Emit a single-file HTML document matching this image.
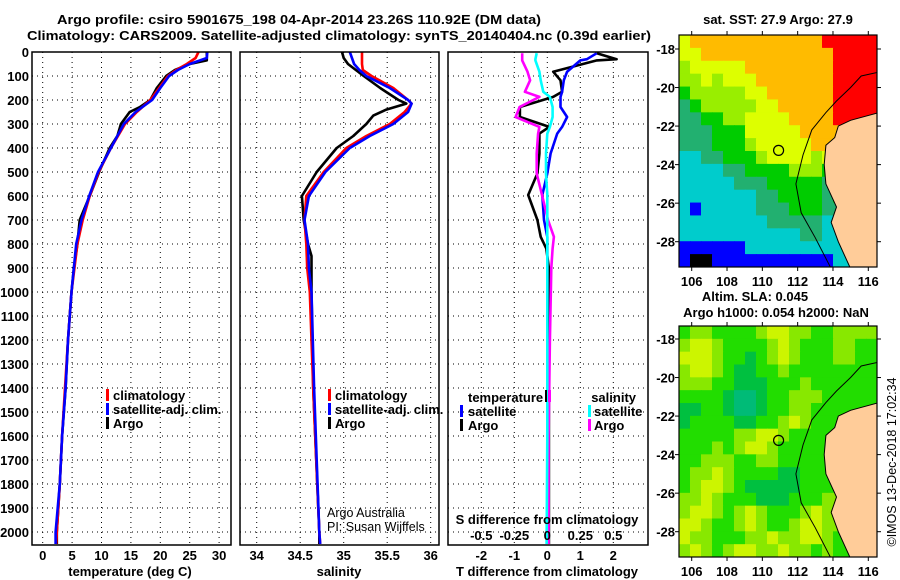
<!DOCTYPE html>
<html><head><meta charset="utf-8"><style>
html,body{margin:0;padding:0;background:#fff;width:900px;height:580px;overflow:hidden}
text{font-family:"Liberation Sans",sans-serif;font-weight:bold;font-size:13px;fill:#000}
</style></head><body>
<svg id="fig" width="900" height="580" xmlns="http://www.w3.org/2000/svg">
<text x="299" y="24" text-anchor="middle" font-size="14" textLength="484" lengthAdjust="spacingAndGlyphs">Argo profile: csiro 5901675_198 04-Apr-2014 23.26S 110.92E (DM data)</text>
<text x="339" y="40" text-anchor="middle" font-size="14" textLength="624" lengthAdjust="spacingAndGlyphs">Climatology: CARS2009. Satellite-adjusted climatology: synTS_20140404.nc (0.39d earlier)</text>
<g id="grid"></g>
<g id="marks"></g>
<g id="maps"></g>
<g id="frames"></g>
<g id="labels"></g>
<!-- legends -->
<g>
<rect x="106" y="389" width="3" height="12" fill="#f00"/><text x="113" y="400">climatology</text>
<rect x="106" y="403" width="3" height="12" fill="#00f"/><text x="113" y="414">satellite-adj. clim.</text>
<rect x="106" y="417" width="3" height="12" fill="#000"/><text x="113" y="428">Argo</text>
</g>
<g>
<rect x="328" y="389" width="3" height="12" fill="#f00"/><text x="335" y="400">climatology</text>
<rect x="328" y="403" width="3" height="12" fill="#00f"/><text x="335" y="414">satellite-adj. clim.</text>
<rect x="328" y="417" width="3" height="12" fill="#000"/><text x="335" y="428">Argo</text>
</g>
<text x="327" y="517" style="font-weight:normal;font-size:12.5px">Argo Australia</text>
<text x="327" y="531" style="font-weight:normal;font-size:12.5px">PI: Susan Wijffels</text>
<g>
<text x="468" y="402">temperature</text><rect x="545" y="390" width="2" height="12" fill="#000"/>
<rect x="548" y="390" width="3" height="12" fill="#f0f"/>
<text x="636" y="402" text-anchor="end">salinity</text>
<rect x="460" y="405" width="3" height="12" fill="#00f"/><text x="468" y="416">satellite</text>
<rect x="588" y="405" width="3" height="12" fill="#0ff"/><text x="594" y="416">satellite</text>
<rect x="460" y="419" width="3" height="12" fill="#000"/><text x="468" y="430">Argo</text>
<rect x="588" y="419" width="3" height="12" fill="#f0f"/><text x="594" y="430">Argo</text>
</g>
<text x="547" y="524" text-anchor="middle">S difference from climatology</text>
<text x="130" y="576" text-anchor="middle">temperature (deg C)</text>
<text x="339" y="576" text-anchor="middle">salinity</text>
<text x="547" y="576" text-anchor="middle">T difference from climatology</text>
<text x="778" y="24" text-anchor="middle">sat. SST: 27.9 Argo: 27.9</text>
<text x="755" y="301" text-anchor="middle">Altim. SLA: 0.045</text>
<text x="776" y="317" text-anchor="middle">Argo h1000: 0.054 h2000: NaN</text>
<text x="0" y="0" transform="translate(896,462) rotate(-90)" text-anchor="middle" style="font-weight:normal;font-size:12.5px">©IMOS 13-Dec-2018 17:02:34</text>
</svg>
<script>
// ---------- data ----------
const depthTicks = [0,100,200,300,400,500,600,700,800,900,1000,1100,1200,1300,1400,1500,1600,1700,1800,1900,2000];
const tempTicks = [0,5,10,15,20,25,30];
const salTicks = [34,34.5,35,35.5,36];
const salTickLabels = ["34","34.5","35","35.5","36"];
const tdiffTicks = [-2,-1,0,1,2];
const sdiffTicks = [-0.5,-0.25,0,0.25,0.5];
const sdiffTickLabels = ["-0.5","-0.25","0","0.25","0.5"];

const tArgoDepth = [0,35,50,75,100,150,200,230,250,300,350,400,500,600,700,800,900,1000,1200,1400,1600,1800,2000,2050];
const tArgo =      [27.9,27.9,25,22.5,21,19.4,18.3,16.5,14.8,13.3,12.7,11.4,9.6,8.0,6.3,5.9,5.3,4.9,4.3,3.9,3.3,2.9,2.4,2.4];
const tClimDepth = [0,25,50,75,100,150,200,250,300,400,500,600,700,800,1000,1200,1400,1600,1800,2000,2050];
const tClim =      [26.5,26,24.5,22.7,21.3,19.8,18.3,16,14,11.6,9.5,8,6.8,5.9,4.9,4.3,3.8,3.3,2.9,2.4,2.3];
const tSat =       [28,27.9,25,23,21.5,20,18.6,15.8,13.8,11.6,9.4,7.9,6.6,5.7,4.9,4.3,3.9,3.3,2.9,2.2,2.2];

const sArgoDepth = [0,25,50,100,150,200,215,240,265,300,350,400,500,600,700,800,850,1000,1400,2000,2050];
const sArgo =      [34.98,35.0,35.05,35.23,35.42,35.63,35.72,35.49,35.34,35.26,35.11,34.92,34.69,34.52,34.54,34.59,34.63,34.63,34.65,34.72,34.72];
const sClimDepth = [0,50,75,100,150,200,215,250,300,350,400,500,600,700,800,900,1000,1400,2000,2050];
const sClim =      [35.21,35.21,35.22,35.32,35.57,35.74,35.78,35.7,35.53,35.26,35.03,34.77,34.57,34.55,34.57,34.58,34.61,34.65,34.72,34.73];
const sSat =       [35.07,35.12,35.18,35.26,35.53,35.74,35.78,35.74,35.57,35.3,35.07,34.79,34.6,34.55,34.59,34.6,34.63,34.66,34.72,34.73];

const dDepth =   [5,30,35,82,118,166,187,229,271,312,340,423,506,596,700,770,819,900,1200,1600,2050];
const dTArgo =   [1.5,2.1,1.5,0.18,0.4,0.45,0.18,-0.83,-0.83,0.06,-0.24,-0.24,-0.3,-0.58,-0.3,-0.2,-0.03,0.05,0.05,0.05,0.05];
const dTSat =    [1.5,1.2,1.0,0.6,0.5,0.45,0.4,0.4,0.6,0.45,0.3,0.1,0.0,-0.15,-0.1,0.0,0.0,0.0,0.0,0.0,0.0];
const dSArgo =   [-0.19,-0.19,-0.19,-0.15,-0.13,-0.17,-0.06,-0.21,-0.24,-0.06,-0.07,-0.08,-0.08,-0.04,0.005,0.05,0.04,0.03,0.02,0.01,0.01];
const dSSat =    [-0.08,-0.09,-0.09,-0.06,-0.05,-0.03,0.02,0.04,0.04,0.02,0.0,-0.01,-0.01,0,0,0,0,0,0,0,-0.005];

const mapLonTicks = [106,108,110,112,114,116];
const mapLatTicks = [-18,-20,-22,-24,-26,-28];
const argoLon = 110.92, argoLat = -23.26;
const sstGrid = [
"YOOOOOOOOOOOORRRRR","YYOOOOOOOOOOOORRRR","LYYYYYOOOOOOOORRRR","LLYLYYYOOOOOOORRRR",
"GLLLLLYYOOOOOORRRR","TGLLLLLYYOOOOORRRR","TTGGLLYYYYOOOORRRR","TTTGGGYYYYYOOOOOOO",
"TTTGGGLYYYYYOOOOOO","CCTTGGGLYYYYLYOOOO","CCCCTTGGGGLLLGGGGG","CCCCCTTTGGGGGTGGGG",
"CCCCCCCTTGGGGTGGGG","CBCCCCCTTTGGGTTGGG","CCCCCCCCTTTTTCCCCC","CCCCCCCCCCCTTCCCCC",
"BBBBBBCCCCCCCCCCCC","BKKBBBBBBBBBBBCCCC"];
const slaGrid = [
"GLLGGGGLYYLLGGLLLL","LYYLGGGGLYLGGGLLGG","YYYLGGDGLYLGGGLLGG","LYYLGDDGGLGGGGGGGG",
"LLLGGDDDGGGLGGGGGG","GGGGDTTDGGLLLGGGGG","DDGGDTTDGGLLGGGGGG","DGGGGDDGGLYLGGGGGG",
"GGGGGLLYYLGGGGGGGG","GGGLGLYYLGGGGGGGGG","GGLLLGGLLGGGGGGGGG","GLLYLGGGGDDGGGGGGG",
"GLYYLGDDDDDGGGGGGG","LLYLGGGDDDGGGLLLLL","LYYLGLYLGGGLYLLLLL","YYLGGLYLGGLYYLLLLL",
"YLLGGGLLYLLYYLGGGG","LYLGLYYLLYLLGLGGGG"];
const landLon = [116.6,115.0,114.3,114.1,113.6,113.5,113.6,114.2,113.9,114.3,115.0,116.6];
const landLat = [-21.3,-21.7,-22.0,-22.6,-23.0,-24.0,-25.0,-26.2,-27.0,-28.0,-29.4,-29.4];
const isoLon = [116.6,115.6,115.0,114.2,113.6,112.8,112.3,111.9,112.2,113.0,113.9];
const isoLat = [-19.2,-19.4,-20.0,-20.7,-21.3,-22.2,-23.5,-25.0,-26.5,-27.8,-29.4];

// ---------- helpers ----------
const NS="http://www.w3.org/2000/svg";
function mk(tag, attrs, parent){const e=document.createElementNS(NS,tag);for(const k in attrs)e.setAttribute(k,attrs[k]);parent.appendChild(e);return e;}
const G=document.getElementById('grid'),M=document.getElementById('marks'),MP=document.getElementById('maps'),F=document.getElementById('frames'),L=document.getElementById('labels');
const top0=52,bot0=545;
const yD=d=>top0+d*0.24;
const xT=t=>42.7+t*5.88;
const xS=s=>256.7+(s-34)*87;
const xDT=d=>547.3+d*33;
const xDS=s=>547.3+s*132;
const panels=[[32,231],[240,439],[448,648]];

panels.forEach(([l,r],i)=>{
  depthTicks.forEach(d=>{ if(d===0) return;
    const ln=mk('line',{x1:l,x2:r,y1:yD(d),y2:yD(d),stroke:'#000','stroke-width':1,'stroke-dasharray':'1 4'},G);
    
    
  });
});
tempTicks.forEach(t=>{const ln=mk('line',{x1:xT(t),x2:xT(t),y1:top0,y2:bot0,stroke:'#000','stroke-dasharray':'1 4'},G);
  
  
  const tx=mk('text',{x:xT(t),y:560,'text-anchor':'middle'},L);tx.textContent=String(t);
  
  
});
salTicks.forEach((s,i)=>{const ln=mk('line',{x1:xS(s),x2:xS(s),y1:top0,y2:bot0,stroke:'#000','stroke-dasharray':'1 4'},G);
  
  
  const tx=mk('text',{x:xS(s),y:560,'text-anchor':'middle'},L);tx.textContent=salTickLabels[i];
  
  
});
tdiffTicks.forEach(t=>{const ln=mk('line',{x1:xDT(t),x2:xDT(t),y1:top0,y2:bot0,stroke:'#000','stroke-dasharray':'1 4'},G);
  
  
  const tx=mk('text',{x:xDT(t),y:560,'text-anchor':'middle'},L);tx.textContent=String(t);
  
  
});
sdiffTicks.forEach((s,i)=>{const tx=mk('text',{x:xDS(s),y:540,'text-anchor':'middle'},L);tx.textContent=sdiffTickLabels[i];
  
  
});
depthTicks.forEach(d=>{const tx=mk('text',{x:29,y:yD(d)+5,'text-anchor':'end'},L);tx.textContent=String(d);
  
  
});
panels.forEach(([l,r])=>{const fr=mk('rect',{x:l,y:top0,width:r-l,height:bot0-top0,fill:'none',stroke:'#000','stroke-width':1.5},F);
  
  
});

function line(depths,vals,xf,color,name){
  const pts=depths.map((d,i)=>xf(vals[i]).toFixed(1)+','+yD(d).toFixed(1)).join(' ');
  const p=mk('polyline',{points:pts,fill:'none',stroke:color,'stroke-width':2.6,'stroke-linejoin':'round'},M);
  
  
}
line(tArgoDepth,tArgo,xT,'#000','temperature-argo-line');
line(tClimDepth,tClim,xT,'#f00','temperature-climatology-line');
line(tClimDepth,tSat,xT,'#00f','temperature-satellite-line');
line(sArgoDepth,sArgo,xS,'#000','salinity-argo-line');
line(sClimDepth,sClim,xS,'#f00','salinity-climatology-line');
line(sClimDepth,sSat,xS,'#00f','salinity-satellite-line');
line(dDepth,dTArgo,xDT,'#000','tdiff-argo-line');
line(dDepth,dTSat,xDT,'#00f','tdiff-satellite-line');
line(dDepth,dSArgo,xDS,'#f0f','sdiff-argo-line');
line(dDepth,dSSat,xDS,'#0ff','sdiff-satellite-line');

// ---------- maps ----------
const mx0=679,mx1=877;
const lonX=lon=>691.7+(lon-106)*17.66;
const sstCol={R:'#ff0000',O:'#ffbb00',Y:'#ddff00',L:'#99ee00',G:'#00cc00',T:'#22b070',C:'#00cccc',B:'#0000ff',K:'#000000'};
const slaCol={Y:'#ccf500',L:'#88e800',G:'#22dd00',D:'#00c040',T:'#00bb77'};
function drawMap(grid,cols,yt,yb,y18,name){
  const latY=lat=>y18+(-18-lat)*19.27;
  const cp='clip-'+name;
  const defs=mk('defs',{},MP);const c=mk('clipPath',{id:cp},defs);mk('rect',{x:mx0,y:yt,width:mx1-mx0,height:yb-yt},c);
  const g=mk('g',{'clip-path':'url(#'+cp+')'},MP);
  
  
  const nr=grid.length,nc=grid[0].length,cw=(mx1-mx0)/nc,ch=(yb-yt)/nr;
  grid.forEach((row,ri)=>{for(let ci=0;ci<nc;ci++){
    const r=mk('rect',{x:(mx0+ci*cw).toFixed(2),y:(yt+ri*ch).toFixed(2),width:(cw+0.6).toFixed(2),height:(ch+0.6).toFixed(2),fill:cols[row[ci]]},g);
    
    
  }});
  const land=mk('polygon',{points:landLon.map((lo,i)=>lonX(lo).toFixed(1)+','+latY(landLat[i]).toFixed(1)).join(' '),fill:'#ffcc99',stroke:'#000','stroke-width':1},g);
  
  
  const iso=mk('polyline',{points:isoLon.map((lo,i)=>lonX(lo).toFixed(1)+','+latY(isoLat[i]).toFixed(1)).join(' '),fill:'none',stroke:'#000','stroke-width':1},g);
  
  
  const ci=mk('circle',{cx:lonX(argoLon),cy:latY(argoLat),r:5,fill:'none',stroke:'#000','stroke-width':1.2},g);
  
  
  const fr=mk('rect',{x:mx0,y:yt,width:mx1-mx0,height:yb-yt,fill:'none',stroke:'#000','stroke-width':1.2},MP);
  
  
  mapLonTicks.forEach(lo=>{
    mk('line',{x1:lonX(lo),x2:lonX(lo),y1:yt-4,y2:yt,stroke:'#000'},MP);
    mk('line',{x1:lonX(lo),x2:lonX(lo),y1:yb,y2:yb+4,stroke:'#000'},MP);
    const t=mk('text',{x:lonX(lo),y:yb+19,'text-anchor':'middle'},L);t.textContent=String(lo);
    
    
  });
  mapLatTicks.forEach(la=>{
    mk('line',{x1:mx0-4,x2:mx0,y1:latY(la),y2:latY(la),stroke:'#000'},MP);
    mk('line',{x1:mx1,x2:mx1+4,y1:latY(la),y2:latY(la),stroke:'#000'},MP);
    const t=mk('text',{x:675,y:latY(la)+5,'text-anchor':'end'},L);t.textContent=String(la);
    
    
  });
}
drawMap(sstGrid,sstCol,35,267,49,'sst-map');
drawMap(slaGrid,slaCol,326,557,339,'sla-map');
</script>
</body></html>
